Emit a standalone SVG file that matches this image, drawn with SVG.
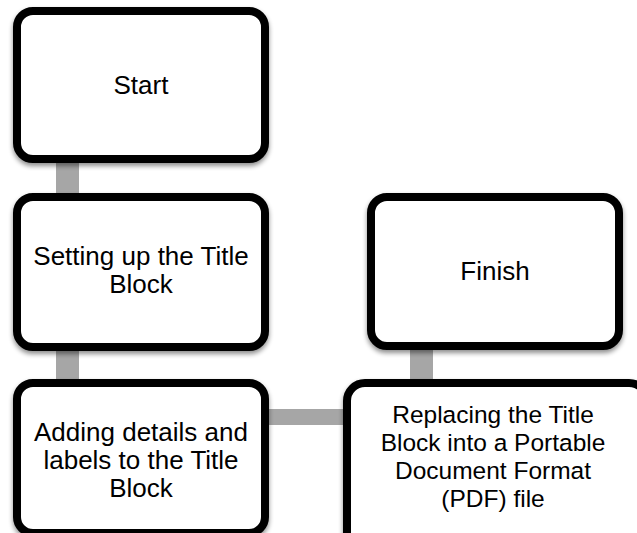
<svg xmlns="http://www.w3.org/2000/svg" width="637" height="533" viewBox="0 0 637 533">
  <style>
    .box { fill: #ffffff; stroke: #000000; stroke-width: 8; filter: url(#shadow); }
    .link { fill: #a6a6a6; }
    .label { font-family: "Liberation Sans", Arial, sans-serif; font-size: 26px; fill: #000000; text-anchor: middle; }
    .small { font-size: 24.5px; }
  </style>
  <defs>
    <filter id="shadow" x="-10%" y="-10%" width="120%" height="130%">
      <feGaussianBlur in="SourceAlpha" stdDeviation="2.5"/>
      <feOffset dx="0" dy="3" result="blur"/>
      <feComponentTransfer><feFuncA type="linear" slope="0.45"/></feComponentTransfer>
      <feMerge><feMergeNode/><feMergeNode in="SourceGraphic"/></feMerge>
    </filter>
  </defs>
  <rect width="637" height="533" fill="#ffffff"/>

  <g id="connectors">
    <rect class="link" x="56" y="150" width="23" height="55"/>
    <rect class="link" x="56" y="340" width="23" height="50"/>
    <rect class="link" x="255" y="409" width="100" height="16"/>
    <rect class="link" x="410" y="340" width="23" height="50"/>
  </g>

  <g id="start">
    <rect class="box" x="17" y="11" width="248" height="148" rx="16"/>
    <text class="label" x="141" y="94">Start</text>
  </g>

  <g id="setup">
    <rect class="box" x="17" y="197" width="248" height="150" rx="16"/>
    <text class="label" x="141" y="265">Setting up the Title</text>
    <text class="label" x="141" y="293">Block</text>
  </g>

  <g id="details">
    <rect class="box" x="17" y="383" width="248" height="150" rx="16"/>
    <text class="label" x="141" y="441">Adding details and</text>
    <text class="label" x="141" y="469">labels to the Title</text>
    <text class="label" x="141" y="497">Block</text>
  </g>

  <g id="finish">
    <rect class="box" x="371" y="197" width="248" height="149" rx="16"/>
    <text class="label" x="495" y="280">Finish</text>
  </g>

  <g id="pdf">
    <rect class="box" x="347" y="383" width="300" height="170" rx="18"/>
    <text class="label small" x="493" y="423">Replacing the Title</text>
    <text class="label small" x="493" y="451">Block into a Portable</text>
    <text class="label small" x="493" y="479">Document Format</text>
    <text class="label small" x="493" y="507">(PDF) file</text>
  </g>
</svg>
